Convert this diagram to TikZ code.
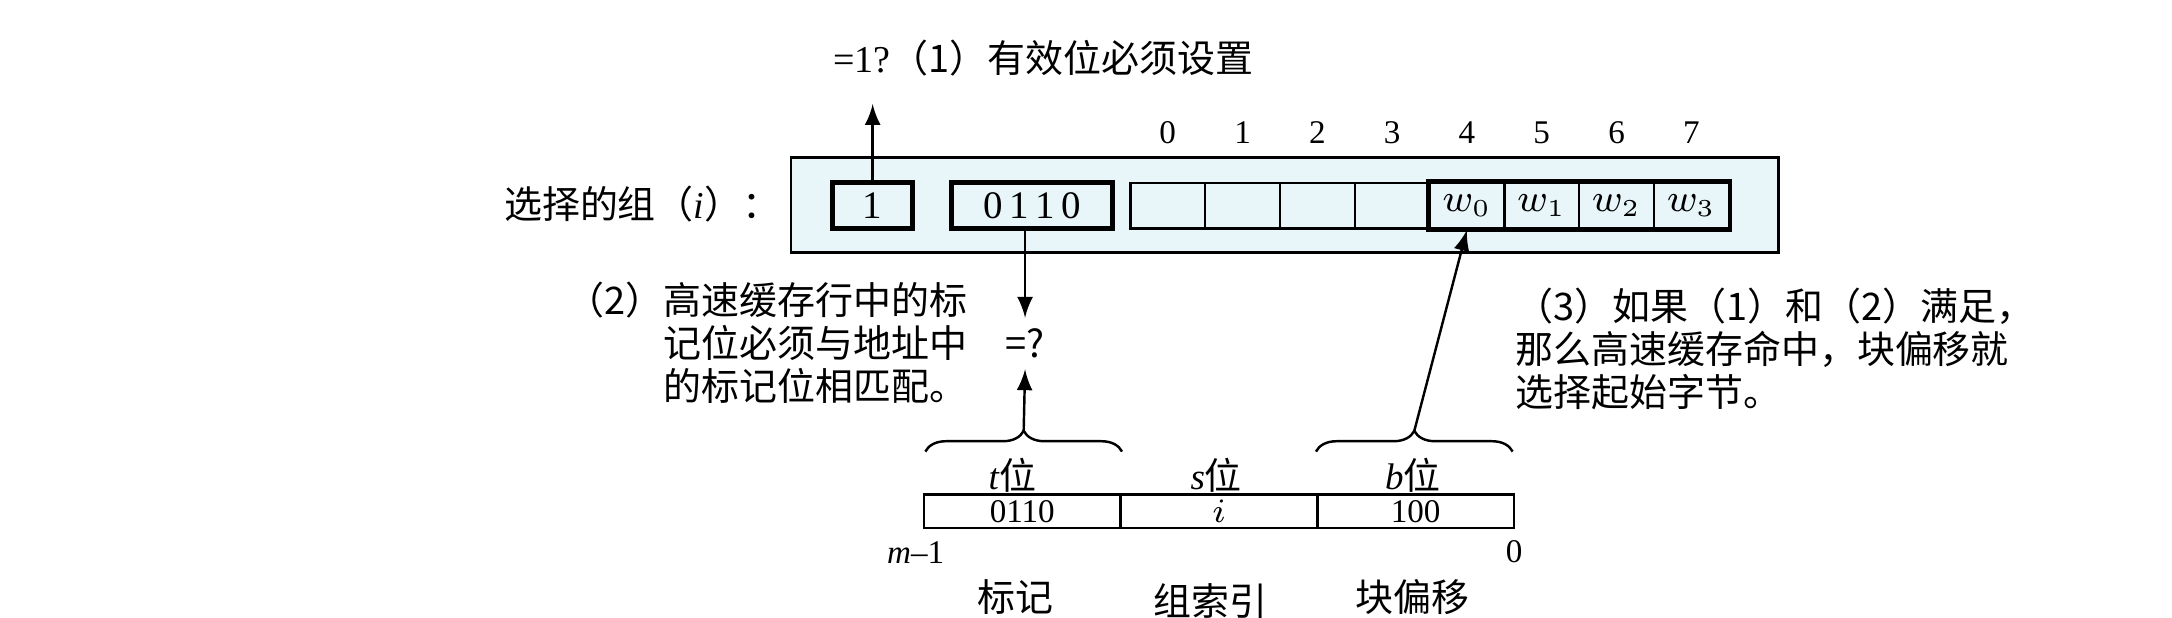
\documentclass[tikz,border=0pt]{standalone}
\usepackage{fontspec}
\setmainfont{Liberation Serif}
\newfontfamily\cjk{Noto Sans CJK SC}
\usetikzlibrary{decorations.pathreplacing}
\definecolor{setblue}{RGB}{232,246,250}
\tikzset{
  txt/.style={font=\fontsize{7.6}{8.8}\selectfont},
  zh/.style={font=\fontsize{7.8}{8.8}\selectfont\cjk},
  small/.style={font=\fontsize{6.8}{8}\selectfont},
  cell/.style={draw,line width=.5pt,minimum width=5.4mm,minimum height=3.3mm,inner sep=0pt,font=\fontsize{8}{9}\selectfont},
  bitbox/.style={draw,line width=1pt,minimum height=3.3mm,inner sep=0pt,font=\fontsize{8}{9}\selectfont},
  field/.style={draw,line width=.5pt,minimum width=14.2mm,minimum height=2.4mm,inner sep=0pt,font=\fontsize{6.8}{8}\selectfont},
  grpbrace/.style={decorate,decoration={brace,amplitude=1.5mm},line width=.5pt}
}
\begin{document}
\begin{tikzpicture}[>=latex,line width=.5pt]
\useasboundingbox (0,0) rectangle (15.68,4.46);
% the selected set
\draw[fill=setblue,line width=.6pt] (5.71,2.64) rectangle (12.84,3.32);
\node[zh,anchor=east] (set) at (5.76,2.99) {选择的组（{\rmfamily\itshape i}）：};
\node[bitbox,minimum width=5.8mm] (v) at (6.30,2.975) {1};
\node[bitbox,minimum width=11.6mm] (tag) at (7.45,2.975) {0\,1\,1\,0};
\node[cell] (c0) at (8.43,2.975) {};
\node[cell] (c1) at (8.97,2.975) {};
\node[cell] (c2) at (9.51,2.975) {};
\node[cell] (c3) at (10.05,2.975) {};
\node[cell] (w0) at (10.59,2.975) {$w_{\scriptscriptstyle 0}$};
\node[cell] (w1) at (11.13,2.975) {$w_{\scriptscriptstyle 1}$};
\node[cell] (w2) at (11.67,2.975) {$w_{\scriptscriptstyle 2}$};
\node[cell] (w3) at (12.21,2.975) {$w_{\scriptscriptstyle 3}$};
\draw[line width=1pt] (w0.north west) rectangle (w3.south east);
\node[small] (i0) at (8.43,3.50) {0};
\node[small] (i1) at (8.97,3.50) {1};
\node[small] (i2) at (9.51,3.50) {2};
\node[small] (i3) at (10.05,3.50) {3};
\node[small] (i4) at (10.59,3.50) {4};
\node[small] (i5) at (11.13,3.50) {5};
\node[small] (i6) at (11.67,3.50) {6};
\node[small] (i7) at (12.21,3.50) {7};
% (1) valid bit
\node[font=\fontsize{7.8}{9}\selectfont,anchor=west] (q1) at (5.89,4.04) {=1?\cjk（1）有效位必须设置};
\coordinate (q1tip) at (6.30,3.71);
\draw[->] (v) -- (q1tip);
% (2) tag match
\node[zh,anchor=north west,align=left,inner sep=0pt] (n2) at (4.08,2.43)
  {（2）高速缓存行中的标\\\phantom{（2）}记位必须与地址中\\\phantom{（2）}的标记位相匹配。};
\node[zh,inner sep=2pt] (eq) at (7.40,1.98) {=?};
\draw[->] (eq.north |- tag.south) -- (eq.north);
\coordinate (ttip) at (7.39,1.35);
\draw[->] (ttip) -- (eq.south);
% (3) block offset
\node[zh,anchor=north west,align=left,inner sep=0pt] (n3) at (10.93,2.39)
  {（3）如果（1）和（2）满足，\\那么高速缓存命中，块偏移就\\选择起始字节。};
\coordinate (btip) at (10.21,1.35);
\draw[->] (btip) -- (w0.south);
% address
\draw[grpbrace] (6.68,1.20) -- (8.10,1.20);
\draw[grpbrace] (9.50,1.20) -- (10.92,1.20);
\node[txt] (tl) at (7.31,1.03) {\textit{t}\cjk 位};
\node[txt] (sl) at (8.78,1.03) {\textit{s}\cjk 位};
\node[txt] (bl) at (10.20,1.03) {\textit{b}\cjk 位};
\node[field] (ft) at (7.38,0.77) {0110};
\node[field] (fs) at (8.80,0.77) {$i$};
\node[field] (fb) at (10.22,0.77) {100};
\node[small] (hi) at (6.61,0.47) {\textit{m}--1};
\node[small] (lo) at (10.93,0.48) {0};
\node[zh] (lt) at (7.33,0.15) {标记};
\node[zh] (ls) at (8.74,0.12) {组索引};
\node[zh] (lb) at (10.20,0.15) {块偏移};
\end{tikzpicture}
\end{document}
